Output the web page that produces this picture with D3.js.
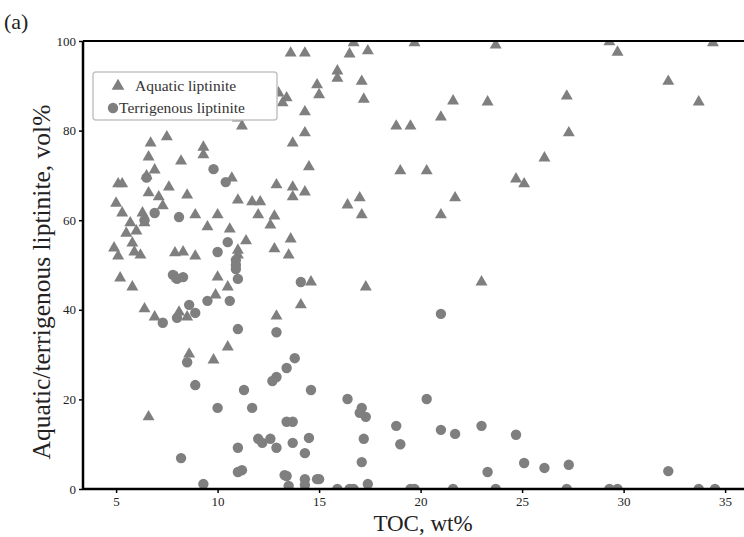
<!DOCTYPE html>
<html><head><meta charset="utf-8">
<script src="https://cdn.jsdelivr.net/npm/d3@7"></script>
<style>body{margin:0;background:#fff}svg{display:block}</style>
</head><body>
<script>
const aquaticTOC = [13.6,14.3,16.5,17.4,16.7,19.7,23.7,15.9,15.9,14.9,15.0,17.1,17.2,14.3,14.3,13.7,18.8,19.5,21.0,21.6,23.3,14.5,19.0,20.3,24.7,13.7,13.7,14.3,16.4,17.0,17.1,21.0,21.7,29.3,29.7,34.4,32.2,33.7,27.2,27.3,26.1,25.1,13.6,13.5,14.6,14.1,17.3,23.0,13.0,13.4,13.2,11.0,11.2,7.5,6.7,9.3,9.3,6.6,8.2,6.9,6.5,10.7,5.1,5.3,7.6,6.6,7.1,8.5,12.9,11.0,11.7,12.1,5.0,5.3,7.3,6.3,8.9,10.0,12.0,12.8,5.7,6.4,9.5,12.6,5.5,6.0,5.8,4.9,5.1,5.9,6.2,7.9,8.3,8.9,10.6,11.4,11.0,11.0,12.8,5.2,5.8,8.0,10.0,10.5,9.9,6.4,6.9,8.1,8.5,12.9,8.6,10.5,9.8,6.6];
const aquaticVol = [97.3,97.3,97.1,97.8,99.6,99.6,99.1,93.3,91.7,90.2,88.0,91.0,87.0,84.2,79.5,77.2,81.0,81.0,83.0,86.6,86.4,71.9,71.0,71.0,69.2,67.4,65.2,66.3,63.4,65.0,61.2,61.2,65.0,99.8,97.5,99.6,91.0,86.4,87.7,79.5,73.9,68.1,55.8,52.2,46.2,41.1,45.1,46.2,88.4,87.3,86.2,82.8,81.0,78.6,77.2,76.3,74.6,74.1,73.2,71.2,69.9,69.4,68.1,68.1,67.4,66.1,65.2,65.6,67.9,64.5,64.1,64.1,63.8,61.6,63.2,61.6,61.2,61.2,61.2,60.9,59.4,59.4,58.5,58.9,57.1,57.6,54.9,53.8,52.0,52.9,52.2,52.7,52.9,52.0,58.0,55.4,53.3,52.2,53.6,47.1,45.1,47.1,47.3,45.1,43.3,40.2,38.4,39.5,38.4,38.6,30.1,31.7,28.8,16.1];
const terrTOC = [9.8,10.4,6.5,6.9,8.1,6.4,10.5,10.0,10.9,10.9,10.9,11.0,7.8,8.3,8.0,9.5,10.6,8.6,8.9,8.0,7.3,11.0,12.9,13.8,13.4,12.9,12.7,8.9,11.3,10.0,11.7,14.1,8.5,13.4,13.7,12.0,12.2,12.6,11.0,12.9,13.7,8.2,11.0,11.2,13.3,13.4,9.3,13.5,21.0,14.6,16.4,17.1,17.0,17.3,20.3,18.8,19.0,21.0,21.7,23.0,24.7,14.5,14.3,17.2,17.1,23.3,14.3,14.9,15.0,14.3,17.4,15.9,16.5,16.7,19.5,19.7,21.6,23.7,25.1,26.1,27.3,32.2,27.2,29.3,29.7,33.7,34.5];
const terrVol = [71.4,68.5,69.5,61.6,60.7,60.0,55.1,52.9,51.1,50.0,49.1,46.9,47.8,47.3,46.9,42.0,42.0,41.1,39.3,38.2,37.1,35.7,35.0,29.2,27.0,25.0,24.1,23.2,22.1,18.1,18.1,46.2,28.3,15.0,15.0,11.2,10.3,11.2,9.2,9.2,10.3,6.9,3.8,4.2,3.1,2.9,1.1,0.7,39.1,22.1,20.1,18.1,17.0,16.1,20.1,14.1,10.0,13.2,12.3,14.1,12.1,11.4,8.0,11.2,6.0,3.8,2.2,2.2,2.2,0.9,1.1,0,0,0,0,0,0,0,5.8,4.7,5.4,4.0,0,0,0,0,0];
const xTicks = [5,10,15,20,25,30,35];
const yTicks = [0,20,40,60,80,100];

(function(){
const W = 744, H = 537;
const mL = 83, mR = 744, mT = 41, mB = 489;
const color = "#7f7f7f";
const font = "'Liberation Serif','Times New Roman',serif";

const svg = d3.select("body").append("svg").attr("width", W).attr("height", H);
const x = d3.scaleLinear().domain([3.37, 35.93]).range([mL, mR]);
const y = d3.scaleLinear().domain([0, 100]).range([mB, mT]);

svg.append("defs").append("clipPath").attr("id","clip")
  .append("rect").attr("x", mL).attr("y", mT).attr("width", mR-mL).attr("height", mB-mT);

const g = svg.append("g").attr("clip-path","url(#clip)");
const tri = d3.symbol().type(d3.symbolTriangle).size(62);
g.selectAll("path.aq").data(aquaticTOC.map((v,i)=>[v, aquaticVol[i]])).join("path")
  .attr("class","aq").attr("d", tri)
  .attr("transform", d => `translate(${x(d[0])},${y(d[1])})`)
  .attr("fill", color);
g.selectAll("circle.tr").data(terrTOC.map((v,i)=>[v, terrVol[i]])).join("circle")
  .attr("class","tr").attr("cx", d=>x(d[0])).attr("cy", d=>y(d[1])).attr("r", 5.2)
  .attr("fill", color);

const xAxis = svg.append("g").attr("transform", `translate(0,${mB})`)
  .call(d3.axisBottom(x).tickValues(xTicks).tickSize(4).tickPadding(4));
const yAxis = svg.append("g").attr("transform", `translate(${mL},0)`)
  .call(d3.axisLeft(y).tickValues(yTicks).tickSize(4).tickPadding(3));
[xAxis, yAxis].forEach(a => {
  a.select(".domain").remove();
  a.selectAll(".tick line").attr("stroke","#000").attr("stroke-width",1.5);
  a.selectAll(".tick text").attr("font-family", font).attr("font-size", 13).attr("fill","#222");
});
svg.append("line").attr("x1",mL).attr("x2",mR).attr("y1",mB).attr("y2",mB).attr("stroke","#000").attr("stroke-width",2.5);
svg.append("line").attr("x1",mL).attr("x2",mL).attr("y1",mT).attr("y2",mB+1).attr("stroke","#000").attr("stroke-width",2.5);
svg.append("line").attr("x1",mL).attr("x2",mR).attr("y1",mT).attr("y2",mT).attr("stroke","#000").attr("stroke-width",2);

svg.append("text").attr("x", 423).attr("y", 531).attr("text-anchor","middle")
  .attr("font-family", font).attr("font-size", 23).attr("fill","#222").text("TOC, wt%");
svg.append("text").attr("transform", `translate(50,282) rotate(-90)`).attr("text-anchor","middle")
  .attr("font-family", font).attr("font-size", 25.5).attr("fill","#222").text("Aquatic/terrigenous liptinite, vol%");
svg.append("text").attr("x", 4).attr("y", 29).attr("font-family", font).attr("font-size", 22).attr("fill","#222").text("(a)");

const lg = svg.append("g");
lg.append("rect").attr("x",93).attr("y",72).attr("width",184).attr("height",48).attr("rx",3)
  .attr("fill","#fff").attr("stroke","#c4c4c4").attr("stroke-width",1.5);
lg.append("path").attr("d", d3.symbol().type(d3.symbolTriangle).size(70)).attr("transform","translate(118,86)").attr("fill",color);
lg.append("text").attr("x",135).attr("y",91).attr("font-family",font).attr("font-size",15.5).attr("fill","#333").text("Aquatic liptinite");
lg.append("circle").attr("cx",113).attr("cy",108).attr("r",5.2).attr("fill",color);
lg.append("text").attr("x",119).attr("y",113).attr("font-family",font).attr("font-size",15.5).attr("fill","#333").text("Terrigenous liptinite");
})();
</script>
</body></html>
